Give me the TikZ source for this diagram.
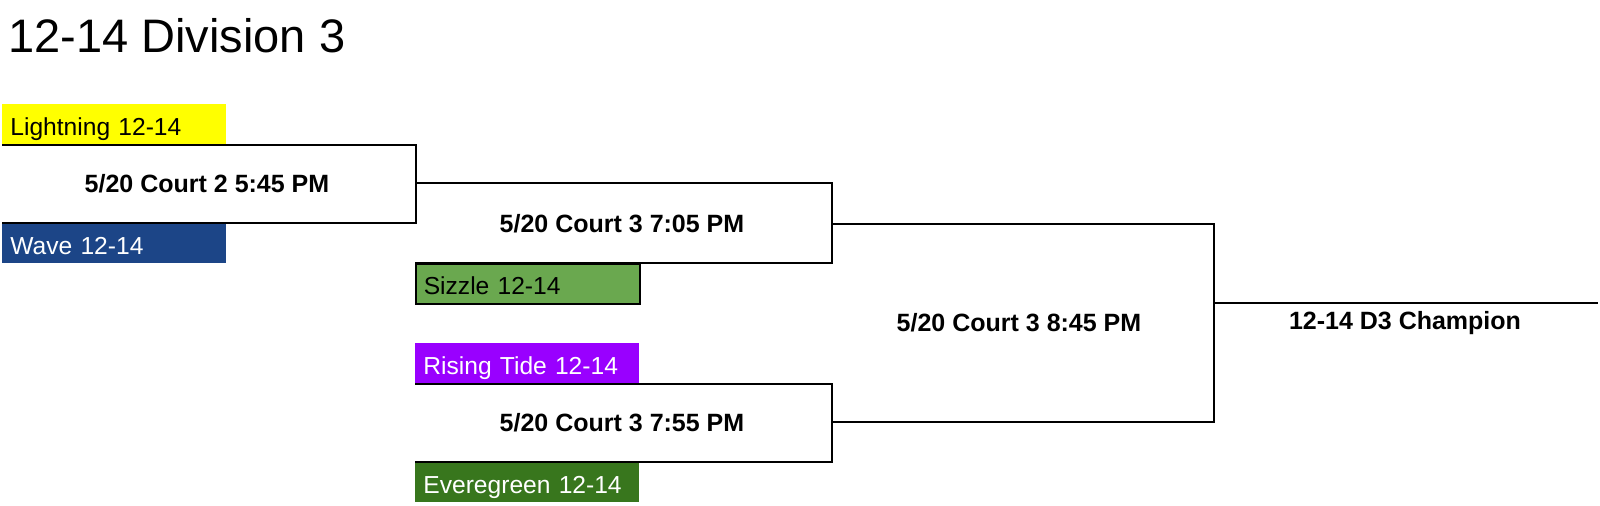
\documentclass[tikz,border=0pt]{standalone}
\usepackage{fontspec}
\setmainfont{Liberation Sans}
\definecolor{lightningyellow}{HTML}{FFFF00}
\definecolor{waveblue}{HTML}{1C4587}
\definecolor{sizzlegreen}{HTML}{6AA84F}
\definecolor{tidepurple}{HTML}{9900FF}
\definecolor{evergreen}{HTML}{38761D}
\tikzset{
	team/.style={anchor=north west, inner xsep=4pt, inner ysep=0pt, text width=104pt, align=left,
		text height=15.5pt, text depth=4.5pt, font=\fontsize{12.3}{14}\selectfont},
	match/.style={font=\fontsize{12.5}{14}\selectfont\bfseries},
	bracket/.style={line width=1pt}
}
\begin{document}
\begin{tikzpicture}[x=0.5pt,y=-0.5pt]
		\useasboundingbox (0,0) rectangle (1600,505);
		\node(title) at (8,52) [anchor=base west, inner sep=0pt, font=\fontsize{23.5}{27}\selectfont] {12-14 Division 3};
		
		\node(lightning) at (2,104) [team, fill=lightningyellow] {Lightning 12-14};
		\node(wave) at (2,223) [team, fill=waveblue, text=white] {Wave 12-14};
		\node(sizzle) at (415,263) [team, fill=sizzlegreen, draw=black, line width=0.8pt] {Sizzle 12-14};
		\node(tide) at (415,343) [team, fill=tidepurple, text=white] {Rising Tide 12-14};
		\node(ever) at (415,462) [team, fill=evergreen, text=white] {Everegreen 12-14};
		
		\coordinate (r1) at (416,183);
		\coordinate (r2) at (832,224);
		\coordinate (r3) at (832,422);
		\coordinate (r4) at (1214,303);
		\coordinate (champ) at (1598,303);
		
		\draw[bracket] (lightning.south west) -| (r1) |- (wave.north west);
		\draw[bracket] (r1) -| (r2) |- (sizzle.north west);
		\draw[bracket] (tide.south west) -| (r3) |- (ever.north west);
		\draw[bracket] (r2) -| (r4) |- (r3);
		\draw[bracket] (r4) -- (champ);
		
		\node(m1) at (207,184) [match] {5/20 Court 2 5:45 PM};
		\node(m2) at (622,224) [match] {5/20 Court 3 7:05 PM};
		\node(m3) at (622,423) [match] {5/20 Court 3 7:55 PM};
		\node(final) at (1019,323) [match] {5/20 Court 3 8:45 PM};
		\node(winner) at (1405,323) [match] {12-14 D3 Champion};
	\end{tikzpicture}
\end{document}
